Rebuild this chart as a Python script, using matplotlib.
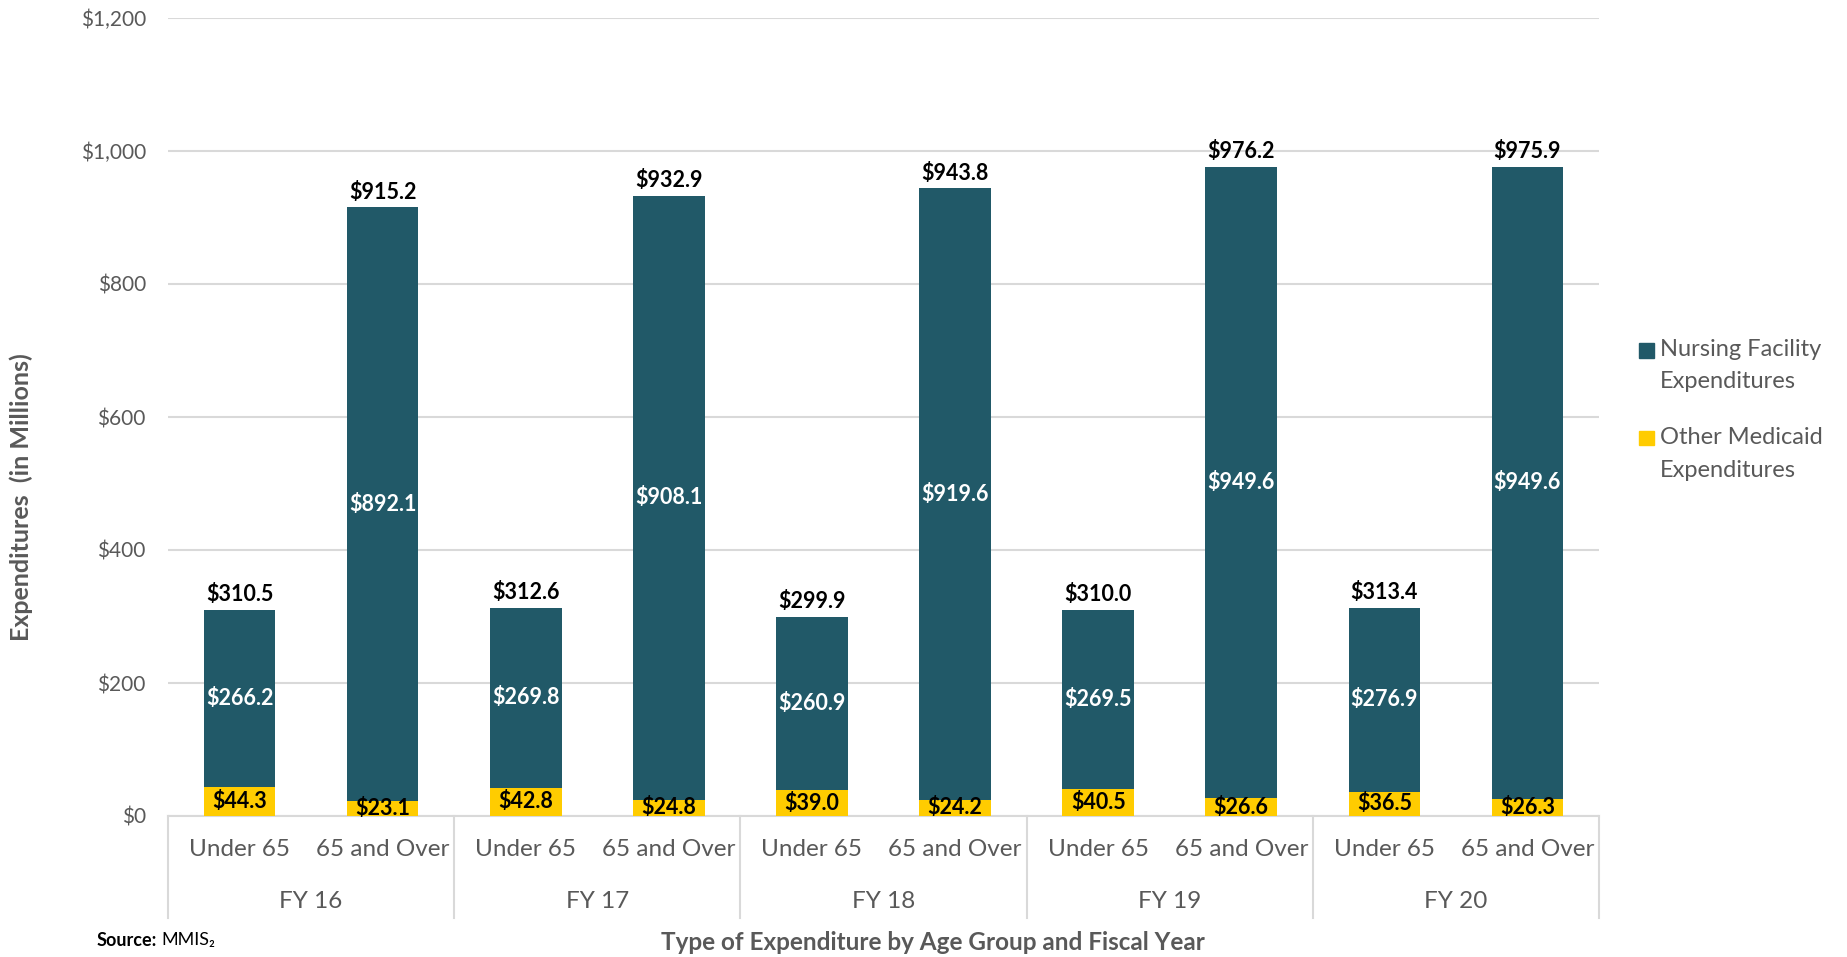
import matplotlib
matplotlib.use('Agg')
import matplotlib.pyplot as plt
import matplotlib.transforms as mtransforms
from matplotlib.patches import Rectangle
import numpy as np

plt.rcParams['font.family'] = ['Lato', 'DejaVu Sans']

years = ['FY 16', 'FY 17', 'FY 18', 'FY 19', 'FY 20']
groups = ['Under 65', '65 and Over']

# other medicaid / nursing facility spending, $ millions
other_under = [44.3, 42.8, 39.0, 40.5, 36.5]
nursing_under = [266.2, 269.8, 260.9, 269.5, 276.9]
other_over = [23.1, 24.8, 24.2, 26.6, 26.3]
nursing_over = [892.1, 908.1, 919.6, 949.6, 949.6]

series_names = ['Nursing Facility\nExpenditures', 'Other Medicaid\nExpenditures']
yticks = [0, 200, 400, 600, 800, 1000, 1200]

teal = '#215968'
gold = '#FFCC00'
gray = '#595959'
grid = '#D9D9D9'

# interleave: under 65 then 65+ for every year
other = [v for pair in zip(other_under, other_over) for v in pair]
nursing = [v for pair in zip(nursing_under, nursing_over) for v in pair]
totals = [round(a + b, 1) for a, b in zip(other, nursing)]
x = np.arange(len(other))

W, H = 1847, 957
fig = plt.figure(figsize=(W / 100, H / 100), dpi=100)
ax_left, ax_right, ax_top, ax_zero = 168, 1599, 18, 816
ax = fig.add_axes([ax_left / W, 1 - ax_zero / H, (ax_right - ax_left) / W, (ax_zero - ax_top) / H])

ax.bar(x, other, width=0.5, color=gold, zorder=3)
ax.bar(x, nursing, width=0.5, bottom=other, color=teal, zorder=3)

lab = dict(ha='center', fontsize=15.5, fontweight='bold', zorder=4)
for xi, o, n, t in zip(x, other, nursing, totals):
    ax.text(xi, o / 2, f'${o:.1f}', va='center', color='black', **lab)
    ax.text(xi, o + n / 2, f'${n:.1f}', va='center', color='white', **lab)
    ax.text(xi, t + 7, f'${t:.1f}', va='bottom', color='black', **lab)

ax.set_xlim(-0.5, len(x) - 0.5)
ax.set_ylim(0, 1200)
ax.set_yticks(yticks)
ax.set_yticklabels([f'${v:,}' for v in yticks], fontsize=15, color=gray)
ax.tick_params(axis='y', length=0, pad=16)
ax.set_xticks([])
for s in ax.spines.values():
    s.set_visible(False)
ax.grid(axis='y', color=grid, linewidth=1.5, zorder=0)
ax.set_axisbelow(True)

# category boxes under the axis
trans = mtransforms.blended_transform_factory(ax.transData, ax.transAxes)
box_depth = (918 - ax_zero) / (ax_zero - ax_top)
for b in np.arange(-0.5, len(x), 2):
    ax.plot([b, b], [0, -box_depth], transform=trans, color=grid, lw=1.5, clip_on=False)
ax.plot([-0.5, len(x) - 0.5], [0, 0], transform=trans, color=grid, lw=1.5, clip_on=False, zorder=2)

row1 = -(850 - ax_zero) / (ax_zero - ax_top)
row2 = -(902 - ax_zero) / (ax_zero - ax_top)
for i, yr in enumerate(years):
    for j, g in enumerate(groups):
        ax.text(2 * i + j, row1, g, transform=trans, ha='center', va='center',
                fontsize=17.5, color=gray)
    ax.text(2 * i + 0.5, row2, yr, transform=trans, ha='center', va='center',
            fontsize=17.5, color=gray)

fig.text(21 / W, 1 - 497 / H, 'Expenditures  (in Millions)', rotation=90, ha='center',
         va='center', fontsize=18, fontweight='bold', color=gray)
fig.text(933 / W, 1 - 943 / H, 'Type of Expenditure by Age Group and Fiscal Year',
         ha='center', va='center', fontsize=17.5, fontweight='bold', color=gray)
fig.text(97 / W, 1 - 940 / H, 'Source:', ha='left', va='center', fontsize=13,
         fontweight='bold', color='black')
fig.text(161 / W, 1 - 940 / H, 'MMIS₂', ha='left', va='center', fontsize=13, color='black')

# legend
for name, col, cy in zip(series_names, [teal, gold], [350, 438]):
    fig.patches.append(Rectangle((1639 / W, 1 - (cy + 7.5) / H), 15 / W, 15 / H,
                                 transform=fig.transFigure, color=col))
    for k, line in enumerate(name.split('\n')):
        fig.text(1660 / W, 1 - (cy + 32 * k) / H, line, ha='left', va='center',
                 fontsize=17, color=gray)

fig.savefig('out.png', dpi=100)
